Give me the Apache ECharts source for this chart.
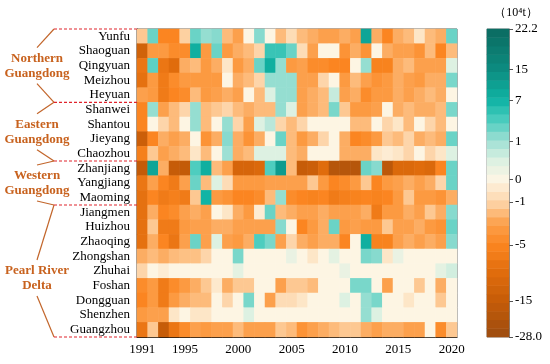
<!DOCTYPE html>
<html><head><meta charset="utf-8">
<script src="https://cdn.jsdelivr.net/npm/echarts@6/dist/echarts.min.js"></script>
<style>html,body{margin:0;padding:0;background:#fff}#c{width:550px;height:364px}</style>
</head><body><div id="c"></div>
<script>
const years = ['1991','1992','1993','1994','1995','1996','1997','1998','1999','2000','2001','2002','2003','2004','2005','2006','2007','2008','2009','2010','2011','2012','2013','2014','2015','2016','2017','2018','2019','2020'];
const yearLabels = ['1991','1995','2000','2005','2010','2015','2020'];
const cities = ['Yunfu','Shaoguan','Qingyuan','Meizhou','Heyuan','Shanwei','Shantou','Jieyang','Chaozhou','Zhanjiang','Yangjiang','Maoming','Jiangmen','Huizhou','Zhaoqing','Zhongshan','Zhuhai','Foshan','Dongguan','Shenzhen','Guangzhou'];

const Yunfu     = [-1.5,3,-5,-5,-1.2,3,1.5,2,-2,-3,0,2,0,-2,-0.8,-2,-2.5,-3,-3,-2.5,-3,10,-2.5,-5,-2.5,-2,-0.5,-2,-2.5,3];
const Shaoguan  = [-13,-3.5,-3.5,-4.5,-4.5,8,-3.5,3,-3.5,-2.5,-2,-1,5,5,3,-0.8,-3,0,0,-4,-2.5,-4,0,-2.5,-3,-3,-4,-2,-5,-2];
const Qingyuan  = [-8,3.5,-8,-10,-2.5,-2,-3.5,-2.5,-0.5,-3.5,-2.5,3,8,1.5,-3.5,-3,-4.5,-4.5,-5,-5,0,1.5,-5.5,-5.5,-2.5,-2,-3,-3,-3,0.5];
const Meizhou   = [-9,-3.5,-7,-4.5,-3.5,-3.5,-3.5,-3.5,0,-2.5,-2,-1,1.5,1.5,1.5,-3,-3,-1,0,-3.5,-2,-3,-4,-3.5,-2.5,-3,-3.5,-2.5,-2.5,2.5];
const Heyuan    = [-3,-3.5,-7,-5,-4.5,-2,-3.5,-3,-2.5,-3,0,-2,0.5,1.5,1.5,-3,-2.5,-2,0.7,-3,-2.5,-4.5,-3.5,-3.5,-2.5,-3,-2.5,-2,-2.5,0];
const Shanwei   = [-5,1.5,-3,-2,-1,1.5,-2,-1.5,-1,-2,-2.5,-2,-2,1.5,0.5,-3,-2.5,-2,2.5,-1.5,-3.5,-3.5,-3,0,-2.5,-2,-2.5,-2.5,-2,2.5];
const Shantou   = [-5,0,-1,-2,0,1.5,-2,0,1.5,-1,-3,0.5,0.8,-1,-2,-1,0,0,0,0,-2,-2,0,-1,-0.5,-2,0,-1,-2,0];
const Jieyang   = [-14,-5,-2.5,-3,-2.5,0,-4,-2.5,2,-2.5,-4,-2.5,0,3,-2,-3.5,-2.5,-1,0,-2.5,-5,-4.5,-3.5,-1.5,-2,-1,-2.5,-2,-2.5,3];
const Chaozhou  = [-6,-1.5,-3,-2.5,-2,-0.5,-2,0,1.2,-2.5,-2,0.5,0.5,0.5,-2,-2.5,0,0,0,-2.5,-2.5,-2.5,-0.5,-0.3,-0.5,-1,0,-1,-0.5,0.5];
const Zhanjiang = [-16,10,-2.5,-15,-16,4,8,-2,-3,-12,-12,-11,4,12,-2,-15,-14,-10,-20,-20,-20,3,2,-18,-11,-11,-10,-11,-5,3];
const Yangjiang = [-8,-3,-5,-7,-3,3,-2,0.5,-0.8,-3.5,-3.5,-3.5,-3,-3,-3,-3,-1.5,-3.5,-5,-4.5,-3.5,-1.5,-5,-3.5,-3,-2.5,-3,-2.5,-1,3];
const Maoming   = [-9,-5,-7,-6,-7,-1.5,7,-3.5,-4,-5,-5,-4.5,-2,1.5,-4.5,-5,-5.5,-5,-7,-6,-5.5,-5,-5.5,-5,-3.5,-1.5,-3.5,-3.5,-4,-2.5];
const Jiangmen  = [-9,-2.5,-5,-4.5,-3,-2.5,-3,0,-0.5,-2.5,-3.5,-0.3,3,-2,-2.5,-3,-3,-2.5,-3,-3,-3,-2.5,-7,-3.5,-3.5,-2.5,-3,-1.5,-2.5,2];
const Huizhou   = [-9,-1.5,-7,-7,-3.5,-3,-3,-2.5,-2.5,-3,-3,-3,-3,2,0,-5,-3.5,-2.5,3,-3.5,-3,-3.5,-3.5,-1.5,-3,-3,-2.5,-3.5,-4,3];
const Zhaoqing  = [-9,-2.5,-5,-8,-3,3,-3,0.5,-3,-3.5,-2.5,4,2.5,-3,-1,-2.5,-3,-2.5,-2.5,-5,0,8,-5.5,-5.5,-3,-2.5,-3,-2.5,-3,2];
const Zhongshan = [-2.5,-2,-2.5,-2,-1.8,-1.8,-1,0,0,2.5,0,0,0,0,0.3,0,-0.5,0,0.4,0,0,2.5,2,-0.5,0.3,0,0,0,0,0];
const Zhuhai    = [-1,0,-0.3,0,0,0,0,0,0,0.4,0,0,0,0,0,0,0,0,0,0.3,0,0,0,0,0,0,0,0,0.4,0.6];
const Foshan    = [-4.5,-3.5,-7,-4.5,-3.5,-2.5,-1.5,-0.4,-2.5,-1.5,-1.5,0,0,-3,-1.5,-1.5,-2,0,0,0,2.5,2.5,0,-3,0,0,-1.5,0,-2.5,0];
const Dongguan  = [-5,-3.5,-7,-3.5,-2.5,-2,-2,0,-1,0,2.5,0,-3,-0.8,-0.8,-0.5,0,0,0,0.5,0,1.5,2.5,0,0,-0.5,0,0,-1.5,0];
const Shenzhen  = [-3.5,-3,-3,-0.5,0,-0.5,-0.5,0,0,0,0.5,0,0,0,0,0,0,0,0,0,0,1.5,0.5,0,0,0,0,0,0,0];
const Guangzhou = [-8,-1.5,-15,-8,-4.5,-3,-3.5,-3,-3,-2,-3,-3,-3,-1.5,-2,-4,-3,-2.5,-2,-1.5,-1.5,-2.5,-3,-2.5,-2.5,-3,-3,0,-4.5,-1.5];

const rows = [Yunfu,Shaoguan,Qingyuan,Meizhou,Heyuan,Shanwei,Shantou,Jieyang,Chaozhou,Zhanjiang,Yangjiang,Maoming,Jiangmen,Huizhou,Zhaoqing,Zhongshan,Zhuhai,Foshan,Dongguan,Shenzhen,Guangzhou];

// colour bar scale (non-linear): tick values and their relative position on the bar
const scaleTicks = [-28, -15, -5, -1, 0, 1, 7, 15, 22.2];
const scalePos   = [0, 0.117, 0.299, 0.439, 0.511, 0.634, 0.769, 0.869, 1];
const scaleLabels = ['-28.0','-15','-5','-1','0','1','7','15','22.2'];

const groups = [
  {name:'Northern\nGuangdong', from:0, to:5, dy:0},
  {name:'Eastern\nGuangdong', from:5, to:9, dy:0},
  {name:'Western\nGuangdong', from:9, to:12, dy:0},
  {name:'Pearl River\nDelta', from:12, to:21, dy:7}
];

function toPos(v){
  for(let i=0;i<scaleTicks.length-1;i++){
    if(v<=scaleTicks[i+1] || i===scaleTicks.length-2){
      const a=scaleTicks[i], b=scaleTicks[i+1];
      return scalePos[i] + (v-a)/(b-a)*(scalePos[i+1]-scalePos[i]);
    }
  }
}
const colorStops = [
  [-28,'#9c4c10'],[-15,'#c65c08'],[-10,'#e06c0c'],[-5,'#fb8520'],[-3,'#fca04c'],
  [-1,'#fdd6aa'],[0,'#fdf5e4'],[0.5,'#ddf1e2'],[1,'#a3e1d5'],[4,'#4ecdbf'],
  [7,'#10b4a5'],[15,'#0c8c80'],[22.2,'#0b6a60']
].map(s=>[toPos(s[0]), s[1]]);
function hex2rgb(h){return [1,3,5].map(i=>parseInt(h.substr(i,2),16));}
function colorAt(t){
  for(let i=0;i<colorStops.length-1;i++){
    const [t0,c0]=colorStops[i],[t1,c1]=colorStops[i+1];
    if(t<=t1 || i===colorStops.length-2){
      const k=Math.max(0,Math.min(1,(t-t0)/(t1-t0)));
      const a=hex2rgb(c0), b=hex2rgb(c1);
      return 'rgb('+a.map((x,j)=>Math.round(x+(b[j]-x)*k)).join(',')+')';
    }
  }
}
const colorList=[]; for(let i=0;i<=200;i++) colorList.push(colorAt(i/200));

const heatData=[];
rows.forEach((r,ri)=>r.forEach((v,ci)=>heatData.push([ci,ri,toPos(v)])));
const NB=36, bandCats=[], barData=[];
for(let i=0;i<NB;i++){bandCats.push(String(i)); barData.push([0,i,(i+0.5)/NB]);}

const G={left:137,top:29,width:320,height:308};
const CB={left:487,top:29,width:22,height:308};
const serif='"Liberation Serif","Times New Roman",serif';

const graphics=[];
const rowH=G.height/cities.length;
const dashC='#e0242c', lineC='#c2652a', txtC='#c8621e';
const bset=new Set(); groups.forEach(g=>{bset.add(g.from);bset.add(g.to);});
bset.forEach(k=>{
  const y=G.top+k*rowH;
  graphics.push({type:'line',shape:{x1:54,y1:y,x2:G.left,y2:y},style:{stroke:dashC,lineWidth:1.2,lineDash:[3,2]},z:10});
});
groups.forEach(g=>{
  const y0=G.top+g.from*rowH, y1=G.top+g.to*rowH, yc=(y0+y1)/2+g.dy;
  graphics.push({type:'line',shape:{x1:54,y1:y0,x2:37,y2:yc-18},style:{stroke:lineC,lineWidth:1.2}});
  graphics.push({type:'line',shape:{x1:37,y1:yc+18,x2:54,y2:y1},style:{stroke:lineC,lineWidth:1.2}});
  graphics.push({type:'text',x:37,y:yc,style:{text:g.name,fill:txtC,font:'bold 13px '+serif,align:'center',verticalAlign:'middle',lineHeight:15}});
});
graphics.push({type:'text',x:516,y:13,style:{text:'（10⁴t）',fill:'#000',font:'12px '+serif,align:'center',verticalAlign:'middle'}});

const chart=echarts.init(document.getElementById('c'));
chart.setOption({
  animation:false,
  backgroundColor:'#fff',
  grid:[
    Object.assign({show:true,borderColor:'#555',borderWidth:1},G),
    Object.assign({show:true,borderColor:'#888',borderWidth:1},CB)
  ],
  xAxis:[
    {type:'category',gridIndex:0,data:years,position:'bottom',
     axisLine:{lineStyle:{color:'#111',width:1.2}},
     axisTick:{alignWithLabel:true,length:5,lineStyle:{color:'#111'},interval:(i,v)=>yearLabels.includes(v)},
     axisLabel:{interval:(i,v)=>yearLabels.includes(v),fontFamily:serif,fontSize:13,color:'#000',margin:6}},
    {type:'category',gridIndex:1,data:['a'],show:false}
  ],
  yAxis:[
    {type:'category',gridIndex:0,data:cities,inverse:true,
     axisLine:{lineStyle:{color:'#111',width:1.2}},
     axisTick:{alignWithLabel:true,length:4,interval:0,lineStyle:{color:'#111'}},
     axisLabel:{interval:0,fontFamily:serif,fontSize:13,color:'#000',margin:7}},
    {type:'category',gridIndex:1,data:bandCats,show:false},
    {type:'value',gridIndex:1,min:0,max:1,position:'right',
     splitLine:{show:false},
     axisLine:{show:true,lineStyle:{color:'#888'}},
     axisTick:{show:true,length:4,customValues:scalePos,lineStyle:{color:'#555'}},
     axisLabel:{customValues:scalePos,fontFamily:serif,fontSize:13,color:'#000',margin:6,
       formatter:(val)=>{let bi=0,bd=9;scalePos.forEach((p,i)=>{const d=Math.abs(p-val);if(d<bd){bd=d;bi=i;}});return scaleLabels[bi];}}}
  ],
  visualMap:{type:'continuous',show:false,min:0,max:1,seriesIndex:[0,1],inRange:{color:colorList}},
  series:[
    {type:'heatmap',xAxisIndex:0,yAxisIndex:0,data:heatData,emphasis:{disabled:true},itemStyle:{borderWidth:0}},
    {type:'heatmap',xAxisIndex:1,yAxisIndex:1,data:barData,emphasis:{disabled:true}}
  ],
  graphic:graphics
});
</script></body></html>
